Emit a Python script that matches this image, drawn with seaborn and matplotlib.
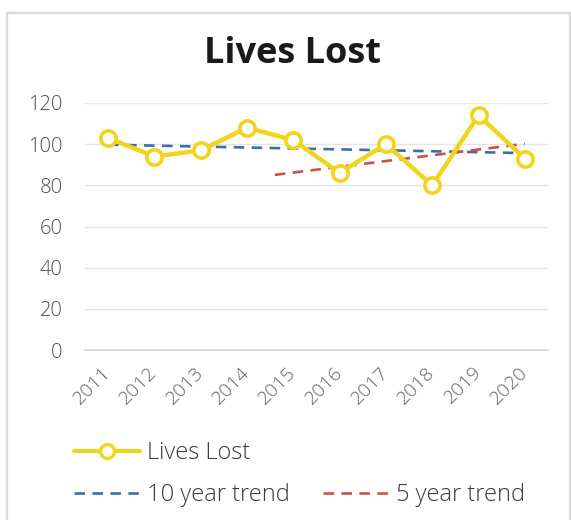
import numpy as np
import pandas as pd
import matplotlib
matplotlib.use("Agg")
import matplotlib.pyplot as plt
import matplotlib.transforms as mtransforms
from matplotlib.lines import Line2D
from matplotlib.patches import Rectangle
import seaborn as sns

years = ["2011", "2012", "2013", "2014", "2015", "2016", "2017", "2018", "2019", "2020"]
lives_lost = [103, 94, 97, 108, 102, 86, 100, 80, 114, 93]
y_ticks = [0, 20, 40, 60, 80, 100, 120]

title = "Lives Lost"
series_label = "Lives Lost"
ten_label = "10 year trend"
five_label = "5 year trend"

YELLOW = "#F2D41E"
BLUE = "#3C6FA8"
RED = "#C9514E"
GRID = "#E5E5E5"
TEXT = "#4E4E4E"

sns.set_theme(style="white")
plt.rcParams["font.family"] = ["Open Sans", "DejaVu Sans"]

idx = np.arange(len(years))
vals = np.array(lives_lost, dtype=float)

# linear trends: whole decade, and the last five years projected back a little
p10 = np.polyfit(idx, vals, 1)
p5 = np.polyfit(idx[-5:], vals[-5:], 1)
five_year_backcast = 1.4
x10 = np.array([idx[0], idx[-1]], dtype=float)
x5 = np.array([idx[-5] - five_year_backcast, idx[-1]], dtype=float)

df = pd.DataFrame({"x": idx, "value": vals})
t10 = pd.DataFrame({"x": x10, "value": np.polyval(p10, x10)})
t5 = pd.DataFrame({"x": x5, "value": np.polyval(p5, x5)})

fig = plt.figure(figsize=(5.71, 5.20), dpi=100)
fig.patch.set_facecolor("white")
fig.patches.append(Rectangle((7 / 571, -0.05), (563 / 571), (520 - 13) / 520 + 0.05,
                             transform=fig.transFigure, fill=False,
                             edgecolor="#DADADA", linewidth=1.6))

ax = fig.add_axes([85 / 571, (520 - 350) / 520, (548 - 85) / 571, (350 - 103) / 520])
ax.set_facecolor("white")

dash = (0, (4, 2.8))
sns.lineplot(data=t10, x="x", y="value", ax=ax, color=BLUE, linewidth=1.9, zorder=2)
ax.lines[-1].set_linestyle(dash)
sns.lineplot(data=t5, x="x", y="value", ax=ax, color=RED, linewidth=1.9, zorder=2)
ax.lines[-1].set_linestyle(dash)
sns.lineplot(data=df, x="x", y="value", ax=ax, color=YELLOW, linewidth=3.2,
             marker="o", markersize=11, markerfacecolor="white",
             markeredgecolor=YELLOW, markeredgewidth=2.6, zorder=3)

ax.set_xlim(-0.5, len(years) - 0.5)
ax.set_ylim(0, 120)
ax.set_yticks(y_ticks)
ax.set_yticklabels([str(t) for t in y_ticks], fontsize=14.5, color=TEXT,
                   fontweight=300)
ax.set_xticks(idx)
ax.set_xticklabels(years, rotation=45, ha="right", va="center",
                   rotation_mode="anchor", fontsize=14, color="#636363",
                   fontweight=300)
shift = mtransforms.ScaledTranslation(7 / 100, -1 / 100, fig.dpi_scale_trans)
for lbl in ax.get_xticklabels():
    lbl.set_transform(lbl.get_transform() + shift)
ax.tick_params(axis="y", length=0, pad=16)
ax.tick_params(axis="x", length=0, pad=14)
ax.set_xlabel("")
ax.set_ylabel("")
ax.yaxis.grid(True, color=GRID, linewidth=1.0)
ax.set_axisbelow(True)
for s in ["top", "right", "left"]:
    ax.spines[s].set_visible(False)
ax.spines["bottom"].set_color("#D6D6D6")
ax.spines["bottom"].set_linewidth(1.2)

fig.text(292 / 571, 1 - 54 / 520, title, ha="center", va="center",
         fontsize=26, fontweight="bold", color="#1A1A1A")

h_main = Line2D([], [], color=YELLOW, linewidth=3.0, marker="o", markersize=10,
                markerfacecolor="white", markeredgecolor=YELLOW, markeredgewidth=2.4)
h10 = Line2D([], [], color=BLUE, linewidth=1.9, linestyle=dash)
h5 = Line2D([], [], color=RED, linewidth=1.9, linestyle=dash)

leg_kw = dict(frameon=False, handlelength=2.8, handletextpad=0.3,
              borderaxespad=0, borderpad=0, labelcolor="#3A3A3A",
              prop={"weight": 300, "size": 17})
leg1 = fig.legend([h_main], [series_label], loc="center left",
                  bbox_to_anchor=(74 / 571, 1 - 453 / 520), **leg_kw)
leg2 = fig.legend([h10, h5], [ten_label, five_label], loc="center left",
                  ncol=2, columnspacing=1.4,
                  bbox_to_anchor=(74 / 571, 1 - 495 / 520), **leg_kw)

fig.savefig("out.png", dpi=100, facecolor="white")
